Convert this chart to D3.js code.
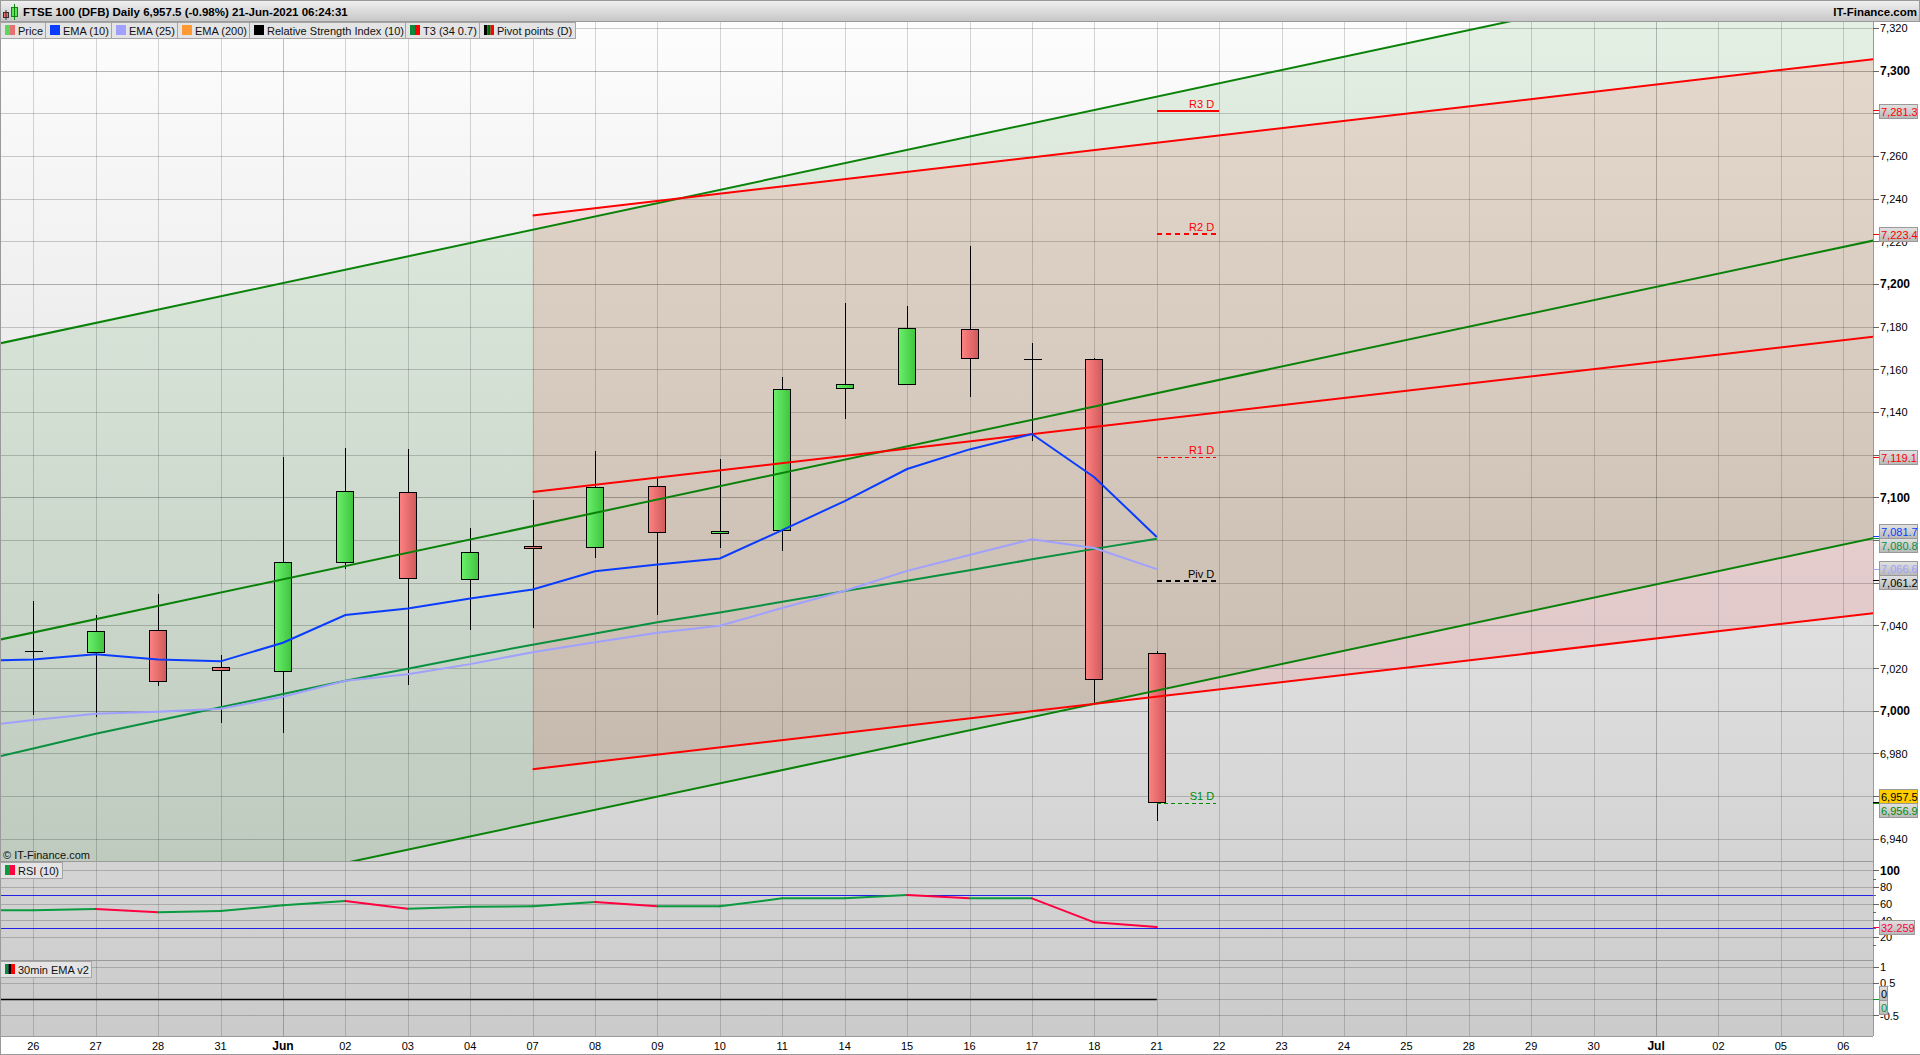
<html>
<head>
  <meta charset="utf-8">
  <title>FTSE 100 (DFB) Daily</title>
  <style>
    body { margin: 0; background: #fff; overflow: hidden; }
    svg { display: block; font-family: "Liberation Sans", Arial, sans-serif; }
  </style>
  <script src="https://d3js.org/d3.v7.min.js"></script>
</head>
<body>
  <div id="chart"></div>

  <script>
    // Day labels along the bottom (index 0 = 26 May)
    const dayLabels = ["26", "27", "28", "31", "Jun", "02", "03", "04", "07", "08", "09", "10", "11", "14", "15",
      "16", "17", "18", "21", "22", "23", "24", "25", "28", "29", "30", "Jul", "02", "05", "06"];

    // Candles, one value per traded day
    const opens = [7028.1, 7027.6, 7037.8, 7020.6, 7018.7, 7069.8, 7102.5, 7061.8, 7077.3, 7076.8, 7105.4, 7083.2, 7084.8, 7151.3, 7153.2, 7179.0, 7164.9, 7165.0, 7027.2];
    const closes = [7028.1, 7037.4, 7014.0, 7019.2, 7069.8, 7103.0, 7062.3, 7074.5, 7076.3, 7104.9, 7083.8, 7084.3, 7150.8, 7153.2, 7179.4, 7165.2, 7164.9, 7014.9, 6957.5];
    const highs = [7051.6, 7045.0, 7054.9, 7026.3, 7119.0, 7123.3, 7122.9, 7085.8, 7099.0, 7121.9, 7109.3, 7118.2, 7156.6, 7191.3, 7189.9, 7218.0, 7172.5, 7165.5, 7028.3];
    const lows = [6998.2, 6997.4, 7011.8, 6994.6, 6989.9, 7066.8, 7012.3, 7038.0, 7039.1, 7071.9, 7045.2, 7076.6, 7075.2, 7137.1, 7153.2, 7147.4, 7126.8, 7003.6, 6948.6];

    // Indicators start one day before the first label (index -1)
    const ema10 = [7023.5, 7024.3, 7026.7, 7024.3, 7023.4, 7032.1, 7045.1, 7048.2, 7052.9, 7057.1, 7065.6, 7068.8, 7071.6, 7084.9, 7098.5, 7113.5, 7122.7, 7129.9, 7109.7, 7081.7];
    const ema25 = [6992.6, 6995.9, 6998.8, 6999.8, 7001.2, 7006.8, 7014.3, 7017.4, 7022.1, 7027.7, 7032.4, 7036.8, 7040.1, 7048.4, 7056.5, 7065.8, 7073.2, 7080.6, 7076.5, 7066.6];
    const t3 = [6975.7, 6982.6, 6989.5, 6995.7, 7001.9, 7008.1, 7014.3, 7019.9, 7025.7, 7031.2, 7036.5, 7041.7, 7046.3, 7051.3, 7056.3, 7061.2, 7066.1, 7071.2, 7076.1, 7080.8];
    const rsi = [52.4, 52.4, 54.0, 50.0, 51.6, 58.4, 63.6, 54.4, 56.8, 57.2, 62.4, 57.2, 57.2, 66.8, 66.8, 70.8, 66.8, 66.8, 38.0, 32.259];

    // Trend channels: day index at each end and the price there
    const greenDays = [-1, 30];
    const greenTop = [7169.5, 7362.8];
    const greenMid = [7030.7, 7223.8];
    const greenLow = [6891.7, 7084.3];
    const redDays = [8, 30];
    const redTop = [7232.3, 7307.3];
    const redMid = [7102.7, 7177.3];
    const redLow = [6972.9, 7047.7];

    // Pivot levels for the current day
    const pivotNames = ["R3 D", "R2 D", "R1 D", "Piv D", "S1 D"];
    const pivotValues = [7281.3, 7223.4, 7119.1, 7061.2, 6956.9];
    const pivotColors = ["#ff0000", "#ff0000", "#ff0000", "#000000", "#008c00"];
    const pivotWidths = [2, 2, 1, 2, 1];
    const pivotDashes = ["none", "5 4", "4 3", "5 4", "4 3"];

    // Value tags on the price axis
    const tagValues = [7281.3, 7223.4, 7119.1, 7081.7, 7080.8, 7066.6, 7061.2, 6957.5, 6956.9];
    const tagColors = ["#ff0000", "#ff0000", "#ff0000", "#0a3cff", "#0a9040", "#a0a0ff", "#000000", "#000000", "#008c00"];

    const priceTicks = d3.range(6940, 7321, 20);
    const rsiTicks = [100, 80, 60, 40, 20];
    const rsiMinorTicks = [90, 70, 50, 30, 10];
    const rsiLevels = [70, 30];
    const oscTicks = [1, 0.5, 0, -0.5];

    const legendNames = ["Price", "EMA (10)", "EMA (25)", "EMA (200)", "Relative Strength Index (10)", "T3 (34 0.7)", "Pivot points (D)"];
    const legendSwatches = [["#5fd45f", "#e87070"], ["#0a3cff"], ["#a0a0ff"], ["#ff9a33"], ["#000000"], ["#0a8a3a", "#ff0000"], ["#000000", "#006600", "#ff0000"]];

    const W = 1920, H = 1055;
    const plotLeft = 1, plotRight = 1873, plotTop = 22, priceBottom = 861, rsiBottom = 960, plotBottom = 1036;

    const x = d3.scaleLinear().domain([0, 29]).range([33.3, 1843.3]);
    const yPrice = d3.scaleLinear().domain([7000, 7300]).range([711.3, 71]);
    const yRsi = d3.scaleLinear().domain([100, 20]).range([870.7, 937.3]);
    const yOsc = d3.scaleLinear().domain([1, -0.5]).range([967.3, 1015.7]);

    // Snap a day to the middle of a pixel column
    const xSnap = i => Math.round(x(i)) + 0.5;

    const svg = d3.select("#chart").append("svg").attr("width", W).attr("height", H);
    const defs = svg.append("defs");

    // Gradients
    function gradient(id, vertical, stops) {
      const g = defs.append("linearGradient").attr("id", id)
        .attr("x1", 0).attr("y1", 0).attr("x2", vertical ? 0 : 1).attr("y2", vertical ? 1 : 0);
      stops.forEach((c, i) => g.append("stop").attr("offset", i / (stops.length - 1)).attr("stop-color", c));
    }
    gradient("bg", true, ["#fdfdfd", "#cbcbcb"]);
    gradient("head", true, ["#f0f0f0", "#c6c6c6"]);
    gradient("up", false, ["#6cf06c", "#3ec43e"]);
    gradient("down", false, ["#ff8282", "#cf5a5a"]);
    gradient("tag", true, ["#e2e2e2", "#b8b8b8"]);

    defs.append("clipPath").attr("id", "priceClip").append("rect")
      .attr("x", plotLeft).attr("y", plotTop).attr("width", plotRight - plotLeft).attr("height", priceBottom - plotTop);
    defs.append("clipPath").attr("id", "allClip").append("rect")
      .attr("x", plotLeft).attr("y", plotTop).attr("width", plotRight - plotLeft).attr("height", plotBottom - plotTop);

    // Plot background
    svg.append("rect").attr("x", plotLeft).attr("y", plotTop)
      .attr("width", plotRight - plotLeft).attr("height", plotBottom - plotTop).attr("fill", "url(#bg)");

    // Channel fills
    const priceLayer = svg.append("g").attr("clip-path", "url(#priceClip)");
    function band(days, top, low, color, alpha) {
      const rows = days.map((d, i) => ({ d, top: top[i], low: low[i] }));
      priceLayer.append("path").datum(rows)
        .attr("d", d3.area().x(r => x(r.d)).y0(r => yPrice(r.low)).y1(r => yPrice(r.top)))
        .attr("fill", color).attr("fill-opacity", alpha);
    }
    band(greenDays, greenTop, greenLow, "#008000", 0.1);
    band(redDays, redTop, redLow, "#ff0000", 0.095);

    // Grid
    const grid = svg.append("g").attr("shape-rendering", "crispEdges").attr("fill", "none");
    dayLabels.forEach((d, i) => {
      const major = d === "Jun" || d === "Jul";
      grid.append("line").attr("x1", xSnap(i)).attr("x2", xSnap(i)).attr("y1", plotTop).attr("y2", plotBottom)
        .attr("stroke", "#000").attr("stroke-opacity", major ? 0.24 : 0.16);
    });
    function hGrid(y, major) {
      grid.append("line").attr("x1", plotLeft).attr("x2", plotRight).attr("y1", y).attr("y2", y)
        .attr("stroke", "#000").attr("stroke-opacity", major ? 0.28 : 0.19);
    }
    priceTicks.forEach(p => hGrid(yPrice(p), p % 100 === 0));
    rsiTicks.forEach(v => hGrid(yRsi(v), false));
    oscTicks.forEach(v => hGrid(yOsc(v), false));

    // Candles
    const candleWidth = 17;
    const candles = opens.map((o, i) => ({ i, o, c: closes[i], h: highs[i], l: lows[i] }));
    const candleG = svg.append("g").attr("shape-rendering", "crispEdges");
    candleG.selectAll(".wick").data(candles).join("line").attr("class", "wick")
      .attr("x1", d => xSnap(d.i)).attr("x2", d => xSnap(d.i))
      .attr("y1", d => yPrice(d.h)).attr("y2", d => yPrice(d.l)).attr("stroke", "#000");
    candleG.selectAll(".body").data(candles.filter(d => d.o !== d.c)).join("rect").attr("class", "body")
      .attr("x", d => xSnap(d.i) - 9)
      .attr("y", d => yPrice(Math.max(d.o, d.c)))
      .attr("width", candleWidth)
      .attr("height", d => Math.abs(yPrice(d.o) - yPrice(d.c)))
      .attr("fill", d => d.c > d.o ? "url(#up)" : "url(#down)")
      .attr("stroke", "#000");
    // Open equals close: just a cross
    candleG.selectAll(".doji").data(candles.filter(d => d.o === d.c)).join("line").attr("class", "doji")
      .attr("x1", d => xSnap(d.i) - 9).attr("x2", d => xSnap(d.i) + 9)
      .attr("y1", d => yPrice(d.c)).attr("y2", d => yPrice(d.c)).attr("stroke", "#000");

    // Trend lines
    const linesLayer = svg.append("g").attr("clip-path", "url(#priceClip)");
    function trend(days, values, color) {
      linesLayer.append("path").datum(days.map((d, i) => [d, values[i]]))
        .attr("d", d3.line().x(r => x(r[0])).y(r => yPrice(r[1])))
        .attr("fill", "none").attr("stroke", color).attr("stroke-width", 2);
    }
    trend(greenDays, greenTop, "#0a820a");
    trend(greenDays, greenMid, "#0a820a");
    trend(greenDays, greenLow, "#0a820a");
    trend(redDays, redTop, "#ff0000");
    trend(redDays, redMid, "#ff0000");
    trend(redDays, redLow, "#ff0000");

    // EMA and T3 lines
    const indicatorLine = d3.line().x((d, i) => x(i - 1)).y(d => yPrice(d));
    linesLayer.append("path").attr("d", indicatorLine(t3)).attr("fill", "none").attr("stroke", "#0a9040").attr("stroke-width", 2);
    linesLayer.append("path").attr("d", indicatorLine(ema25)).attr("fill", "none").attr("stroke", "#a0a0ff").attr("stroke-width", 2);
    linesLayer.append("path").attr("d", indicatorLine(ema10)).attr("fill", "none").attr("stroke", "#0a3cff").attr("stroke-width", 2);

    // Pivot levels
    const pivotG = svg.append("g");
    pivotValues.forEach((v, i) => {
      pivotG.append("line").attr("x1", x(18)).attr("x2", x(19) - (pivotWidths[i] === 1 ? 3 : 0))
        .attr("y1", yPrice(v)).attr("y2", yPrice(v))
        .attr("stroke", pivotColors[i]).attr("stroke-width", pivotWidths[i])
        .attr("stroke-dasharray", pivotDashes[i]).attr("shape-rendering", "crispEdges");
      pivotG.append("text").attr("x", x(19) - 5).attr("y", yPrice(v) - 3)
        .attr("text-anchor", "end").attr("font-size", 11).attr("fill", pivotColors[i]).text(pivotNames[i]);
    });

    // RSI panel
    const rsiG = svg.append("g").attr("clip-path", "url(#allClip)");
    rsiLevels.forEach(v => {
      rsiG.append("line").attr("x1", plotLeft).attr("x2", plotRight).attr("y1", yRsi(v)).attr("y2", yRsi(v))
        .attr("stroke", "#2020e0").attr("shape-rendering", "crispEdges");
    });
    const rsiSegments = d3.pairs(rsi.map((v, i) => [i - 1, v]));
    rsiG.selectAll(".rsi").data(rsiSegments).join("line").attr("class", "rsi")
      .attr("x1", d => x(d[0][0])).attr("y1", d => yRsi(d[0][1]))
      .attr("x2", d => x(d[1][0])).attr("y2", d => yRsi(d[1][1]))
      .attr("stroke", d => d[1][1] < d[0][1] ? "#ff0040" : "#0a9a40")
      .attr("stroke-width", 2).attr("stroke-linecap", "round");

    // Flat black line in the bottom panel
    rsiG.append("line").attr("x1", plotLeft).attr("x2", x(18)).attr("y1", yOsc(0)).attr("y2", yOsc(0))
      .attr("stroke", "#000").attr("stroke-width", 1.5);

    // Frame and panel separators
    const frame = svg.append("g").attr("shape-rendering", "crispEdges").attr("stroke", "#9a9a9a").attr("fill", "none");
    [priceBottom, rsiBottom, plotBottom].forEach(y => {
      frame.append("line").attr("x1", 0).attr("x2", plotRight).attr("y1", y + 0.5).attr("y2", y + 0.5);
    });
    frame.append("line").attr("x1", plotRight + 0.5).attr("x2", plotRight + 0.5).attr("y1", plotTop).attr("y2", plotBottom);
    frame.append("line").attr("x1", 0.5).attr("x2", 0.5).attr("y1", 0).attr("y2", H);
    frame.append("line").attr("x1", 0).attr("x2", W).attr("y1", H - 0.5).attr("y2", H - 0.5);

    // Where the tags sit, pushed apart where two would overlap
    const tagY = tagValues.map(v => yPrice(v));
    const tagPos = tagY.slice();
    for (let i = 0; i < tagPos.length - 1; i++) {
      if (tagY[i + 1] - tagY[i] < 14) {
        const mid = (tagY[i] + tagY[i + 1]) / 2;
        tagPos[i] = mid - 7;
        tagPos[i + 1] = mid + 7;
        i++;
      }
    }

    // Axis labels
    const axisG = svg.append("g");
    function axisTick(y, label, bold, len) {
      axisG.append("line").attr("x1", plotRight).attr("x2", plotRight + (len || 6)).attr("y1", y).attr("y2", y)
        .attr("stroke", "#666").attr("shape-rendering", "crispEdges");
      if (label !== null) {
        axisG.append("text").attr("x", plotRight + 7).attr("y", y + 4)
          .attr("font-size", bold ? 12 : 11).attr("font-weight", bold ? "bold" : "normal").attr("fill", "#000").text(label);
      }
    }
    // A price label with a tag right over it is not shown
    priceTicks.forEach(p => {
      const hidden = tagPos.some(t => Math.abs(t - yPrice(p)) < 5);
      axisTick(yPrice(p), hidden ? null : d3.format(",")(p), p % 100 === 0);
    });
    rsiTicks.forEach(v => axisTick(yRsi(v), v, v === 100));
    rsiMinorTicks.forEach(v => axisTick(yRsi(v), null, false, 3));
    oscTicks.filter(v => v !== 0).forEach(v => axisTick(yOsc(v), v));
    axisTick(yOsc(0), null, false, 3);

    // Day labels
    svg.append("g").selectAll("text").data(dayLabels).join("text")
      .attr("x", (d, i) => x(i)).attr("y", 1050).attr("text-anchor", "middle")
      .attr("font-size", d => (d === "Jun" || d === "Jul") ? 12 : 11)
      .attr("font-weight", d => (d === "Jun" || d === "Jul") ? "bold" : "normal")
      .text(d => d);

    // Value tags
    function drawTag(yTrue, yTag, text, color, fill, width) {
      svg.append("line").attr("x1", plotRight).attr("x2", plotRight + 6).attr("y1", yTrue).attr("y2", yTrue)
        .attr("stroke", color).attr("shape-rendering", "crispEdges");
      svg.append("rect").attr("x", plotRight + 6.5).attr("y", Math.round(yTag - 7) + 0.5)
        .attr("width", width).attr("height", 14).attr("fill", fill).attr("stroke", "#999");
      svg.append("text").attr("x", plotRight + 8).attr("y", Math.round(yTag - 7) + 11.5)
        .attr("font-size", 11).attr("fill", color).text(text);
    }
    tagValues.forEach((v, i) => {
      const last = i === 7;
      drawTag(tagY[i], tagPos[i], d3.format(",.1f")(v), tagColors[i], last ? "#ffcc00" : "url(#tag)", 38);
    });
    const rsiLast = rsi[rsi.length - 1];
    drawTag(yRsi(rsiLast), yRsi(rsiLast), rsiLast, "#ff0040", "url(#tag)", 35);
    drawTag(yOsc(0), yOsc(0) - 7, "0", "#000000", "url(#tag)", 8);
    drawTag(yOsc(0), yOsc(0) + 7, "0", "#0a9a20", "url(#tag)", 8);

    // Header bar
    svg.append("rect").attr("x", 0.5).attr("y", 0.5).attr("width", W - 1).attr("height", 21)
      .attr("fill", "url(#head)").attr("stroke", "#9a9a9a").attr("shape-rendering", "crispEdges");
    svg.append("rect").attr("x", 3.5).attr("y", 12.5).attr("width", 5).attr("height", 5).attr("fill", "#e87070").attr("stroke", "#333");
    svg.append("line").attr("x1", 6).attr("x2", 6).attr("y1", 10).attr("y2", 20).attr("stroke", "#333");
    svg.append("rect").attr("x", 11.5).attr("y", 7.5).attr("width", 6).attr("height", 9).attr("fill", "#5fe05f").attr("stroke", "#0a8a0a");
    svg.append("line").attr("x1", 14.5).attr("x2", 14.5).attr("y1", 4).attr("y2", 20).attr("stroke", "#0a8a0a");
    svg.append("text").attr("x", 23).attr("y", 16).attr("font-size", 11.5).attr("font-weight", "bold")
      .text("FTSE 100 (DFB) Daily 6,957.5 (-0.98%) 21-Jun-2021 06:24:31");
    svg.append("text").attr("x", 1917).attr("y", 16).attr("text-anchor", "end").attr("font-size", 11.5).attr("font-weight", "bold")
      .text("IT-Finance.com");

    // Legend boxes
    function legendBox(left, right, top, swatch, name, textX) {
      svg.append("rect").attr("x", left + 0.5).attr("y", top + 0.5).attr("width", right - left).attr("height", 16)
        .attr("fill", "#e4e4e4").attr("stroke", "#a5a5a5").attr("shape-rendering", "crispEdges");
      const sw = 10 / swatch.length;
      swatch.forEach((c, i) => {
        svg.append("rect").attr("x", left + 5 + i * sw).attr("y", top + 3).attr("width", sw).attr("height", 10).attr("fill", c);
      });
      svg.append("text").attr("x", textX).attr("y", top + 12.5).attr("font-size", 11).attr("fill", "#111").text(name);
    }
    const legendEdges = [0, 45, 111, 177, 249, 405, 479, 575];
    legendNames.forEach((n, i) => {
      legendBox(legendEdges[i], legendEdges[i + 1], 22, legendSwatches[i], n, legendEdges[i] + 18);
    });
    legendBox(0, 62, 862, ["#0a9a40", "#ff0040"], "RSI (10)", 18);
    legendBox(0, 91, 961, ["#0a8a3a", "#000000", "#ff0000"], "30min EMA v2", 18);

    svg.append("text").attr("x", 3).attr("y", 859).attr("font-size", 11).attr("fill", "#111").text("© IT-Finance.com");
  </script>
</body>
</html>
